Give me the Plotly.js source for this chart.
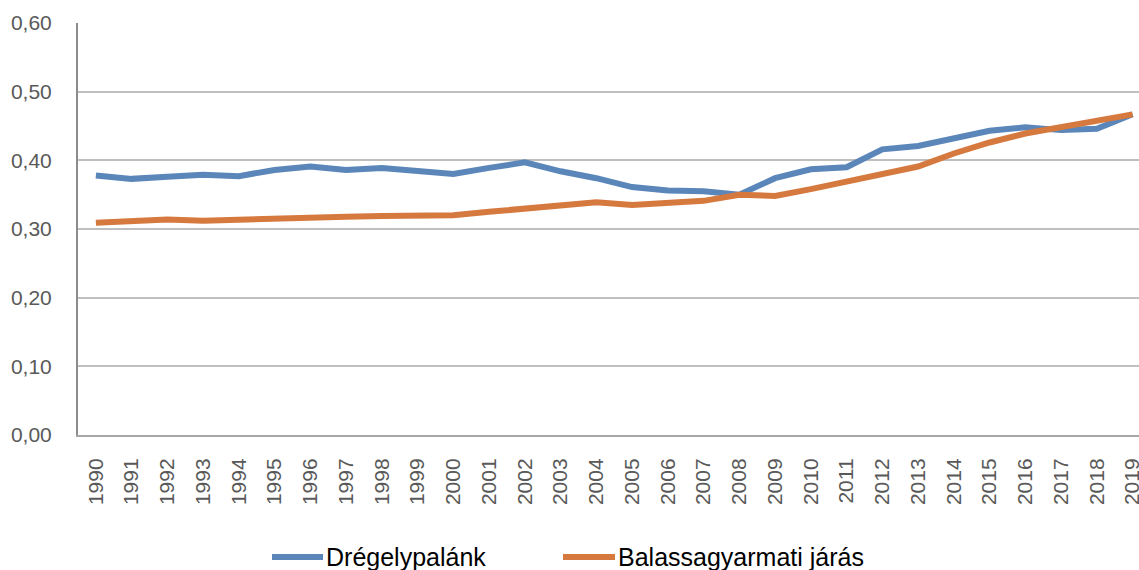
<!DOCTYPE html>
<html>
<head>
<meta charset="utf-8">
<script src="https://cdn.plot.ly/plotly-3.0.1.min.js"></script>
<style>html,body{margin:0;padding:0;background:#fff;}#chart{width:1139px;height:570px;}</style>
</head>
<body>
<div id="chart"></div>
<script>
const years = [1990,1991,1992,1993,1994,1995,1996,1997,1998,1999,2000,2001,2002,2003,2004,2005,2006,2007,2008,2009,2010,2011,2012,2013,2014,2015,2016,2017,2018,2019];
const dregelypalank = [0.378,0.373,0.376,0.379,0.377,0.386,0.391,0.386,0.389,0.384,0.380,0.389,0.397,0.384,0.374,0.361,0.356,0.355,0.350,0.374,0.387,0.390,0.416,0.421,0.432,0.443,0.448,0.444,0.446,0.467];
const balassagyarmati = [0.309,0.312,0.314,0.312,0.314,0.316,0.318,0.318,0.319,0.319,0.320,0.325,0.330,0.336,0.339,0.335,0.337,0.341,0.350,0.348,0.358,0.369,0.379,0.391,0.410,0.426,0.439,0.448,0.456,0.467];
const seriesNames = ["Drégelypalánk","Balassagyarmati járás"];
const seriesColors = ['#5b86b9', '#d6793f'];
const yTicks = [0,0.1,0.2,0.3,0.4,0.5,0.6];

const traces = [
  {x: years, y: dregelypalank, name: seriesNames[0], type: 'scatter', mode: 'lines',
   line: {color: seriesColors[0], width: 6}},
  {x: years, y: balassagyarmati, name: seriesNames[1], type: 'scatter', mode: 'lines',
   line: {color: seriesColors[1], width: 6}}
];

// custom legend (paper coords)
const plotL = 78, plotW = 1061, plotB = 435, plotH = 412;
const px = v => (v - plotL) / plotW;
const py = v => (plotB - v) / plotH;
const legendItems = [{x0: 272, x1: 323, tx: 324}, {x0: 563, x1: 615, tx: 616}];
const legY = 557;
const shapes = legendItems.map((it, i) => ({
  type: 'line', xref: 'paper', yref: 'paper',
  x0: px(it.x0), x1: px(it.x1), y0: py(legY), y1: py(legY),
  line: {color: seriesColors[i], width: 6}
}));
const annotations = legendItems.map((it, i) => ({
  xref: 'paper', yref: 'paper', x: px(it.tx), y: py(legY), xanchor: 'left', yanchor: 'middle',
  text: seriesNames[i], showarrow: false, font: {size: 25, color: '#000'}
}));

const layout = {
  width: 1139, height: 570,
  margin: {l: 78, r: 0, t: 23, b: 135},
  paper_bgcolor: '#fff', plot_bgcolor: '#fff',
  separators: ', ',
  font: {family: 'Liberation Sans, Arial, sans-serif', color: '#595959'},
  showlegend: false,
  shapes: shapes,
  annotations: annotations,
  xaxis: {
    range: [1989.5, 2019.18], tickmode: 'array', tickvals: years, ticktext: years.map(String),
    tickangle: -90, tickfont: {size: 21, color: '#595959'}, showgrid: false,
    showline: true, linecolor: '#a6a6a6', linewidth: 2, ticks: '', zeroline: false, fixedrange: true,
    ticklabeloverflow: 'allow', ticklabelstandoff: 13
  },
  yaxis: {
    range: [0, 0.6], tickmode: 'array', tickvals: yTicks, tickformat: '.2f',
    tickfont: {size: 21, color: '#595959'}, showgrid: true, gridcolor: '#bfbfbf', gridwidth: 2,
    showline: true, linecolor: '#8c8c8c', linewidth: 2, zeroline: false, ticks: '',
    ticklabelstandoff: 20, fixedrange: true
  }
};

Plotly.newPlot('chart', traces, layout, {displayModeBar: false, staticPlot: true});
</script>
</body>
</html>
